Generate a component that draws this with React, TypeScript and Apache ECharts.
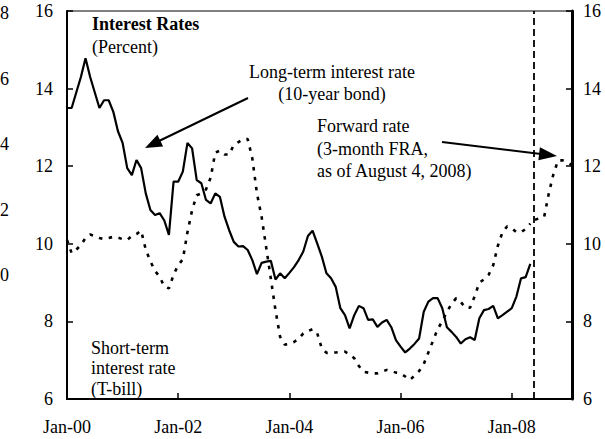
import React, { useEffect, useRef } from "react";
import * as echarts from "echarts";

// Months since Jan-2000 (index = month)
const longTermRate = [
  13.5, 13.5, 13.9, 14.3, 14.78, 14.3, 13.9, 13.5, 13.7, 13.7,
  13.4, 12.9, 12.6, 11.95, 11.77, 12.16, 11.95, 11.3, 10.87, 10.74,
  10.79, 10.6, 10.23, 11.6, 11.6, 11.86, 12.6, 12.46, 11.64, 11.56,
  11.13, 11.04, 11.3, 11.21, 10.7, 10.35, 10.05, 9.93, 9.94, 9.84,
  9.58, 9.22, 9.51, 9.54, 9.56, 9.08, 9.24, 9.11, 9.25, 9.4,
  9.58, 9.8, 10.2, 10.34, 10.01, 9.67, 9.24, 9.11, 8.89, 8.34,
  8.16, 7.82, 8.16, 8.4, 8.34, 8.04, 8.05, 7.86, 7.97, 8.04,
  7.85, 7.52, 7.35, 7.2, 7.3, 7.42, 7.56, 8.25, 8.51, 8.6,
  8.6, 8.34, 7.85, 7.73, 7.6, 7.43, 7.54, 7.59, 7.52, 8.08,
  8.29, 8.32, 8.4, 8.08, 8.16, 8.25, 8.34, 8.64, 9.11, 9.14,
  9.48,
];

const shortTermRate = [
  10.1, 9.76, 9.85, 9.97, 10.15, 10.24, 10.2, 10.15, 10.12, 10.15,
  10.18, 10.16, 10.12, 10.1, 10.2, 10.25, 10.34, 9.85, 9.55, 9.3,
  9.15, 8.9, 8.85, 9.2, 9.45, 9.6, 10.3, 10.87, 11.25, 11.3,
  11.4, 11.7, 12.35, 12.4, 12.3, 12.3, 12.55, 12.62, 12.7, 12.7,
  12.2, 11.3, 10.7, 9.9, 9.1, 8.29, 7.6, 7.4, 7.42, 7.47,
  7.55, 7.69, 7.75, 7.8, 7.7, 7.3, 7.19, 7.19, 7.2, 7.21,
  7.22, 7.15, 7.05, 6.85, 6.7, 6.68, 6.66, 6.66, 6.7, 6.75,
  6.72, 6.68, 6.66, 6.58, 6.49, 6.6, 6.72, 6.9, 7.2, 7.5,
  7.8, 8.0, 8.25, 8.45, 8.6, 8.5, 8.35, 8.35, 8.65, 9.0,
  9.08, 9.2, 9.45, 9.95, 10.3, 10.45, 10.4, 10.3, 10.3, 10.38,
  10.52,
];

const forwardMonths = [101, 102, 103, 104, 105, 106, 107, 108, 109];
const forwardRate = [10.62, 10.66, 10.7, 11.3, 11.8, 12.15, 12.15, 12.1, 12.03];

const xTickLabels = ["Jan-00", "Jan-02", "Jan-04", "Jan-06", "Jan-08"];
const asOfMonth = 100.7;
const neighbourLabels = ["18", "16", "14", "12", "10"];

const FONT = "'Liberation Serif', 'Times New Roman', serif";

export default function App() {
  const ref = useRef<HTMLDivElement>(null);

  useEffect(() => {
    const chart = echarts.init(ref.current!, null, { renderer: "svg" });

    const axisLabelStyle = { color: "#000", fontFamily: FONT, fontSize: 18 };
    const yBase = {
      type: "value" as const,
      min: 6,
      max: 16,
      interval: 2,
      splitLine: { show: false },
      axisTick: { show: true, inside: true, length: 6, lineStyle: { color: "#000", width: 1.5 } },
    };

    const txt = (text: string, x: number, y: number, opts: any = {}) => ({
      type: "text",
      silent: true,
      style: {
        text,
        x,
        y,
        fill: "#000",
        font: `${opts.bold ? "bold " : ""}18px ${FONT}`,
        textAlign: opts.align || "left",
        textVerticalAlign: "middle",
      },
    });

    const arrowHead = (tipX: number, tipY: number, fromX: number, fromY: number, len: number, half: number) => {
      const dx = tipX - fromX;
      const dy = tipY - fromY;
      const L = Math.sqrt(dx * dx + dy * dy);
      const ux = dx / L;
      const uy = dy / L;
      const bx = tipX - ux * len;
      const by = tipY - uy * len;
      return {
        type: "polygon",
        silent: true,
        shape: {
          points: [
            [tipX, tipY],
            [bx - uy * half, by + ux * half],
            [bx + uy * half, by - ux * half],
          ],
        },
        style: { fill: "#000" },
      };
    };

    const graphics: any[] = [
      txt("Interest Rates", 92, 24, { bold: true }),
      txt("(Percent)", 92, 47),
      txt("Long-term interest rate", 332, 72, { align: "center" }),
      txt("(10-year bond)", 332, 94, { align: "center" }),
      txt("Forward rate", 317, 126),
      txt("(3-month FRA,", 317, 149),
      txt("as of August 4, 2008)", 317, 171),
      txt("Short-term", 91, 348),
      txt("interest rate", 91, 368),
      txt("(T-bill)", 91, 389),
      {
        type: "line",
        silent: true,
        shape: { x1: 248, y1: 98, x2: 159, y2: 141 },
        style: { stroke: "#000", lineWidth: 2 },
      },
      arrowHead(145, 148, 248, 98, 17, 6.5),
      {
        type: "line",
        silent: true,
        shape: { x1: 442, y1: 142, x2: 541, y2: 154 },
        style: { stroke: "#000", lineWidth: 2 },
      },
      arrowHead(557, 156, 442, 142, 18, 6.5),
    ];
    neighbourLabels.forEach((t, i) => {
      graphics.push(txt(t, 9, 13 + i * 65.5, { align: "right" }));
    });

    chart.setOption({
      animation: false,
      backgroundColor: "#fff",
      grid: {
        left: 67,
        right: 33,
        top: 11,
        bottom: 40,
        show: true,
        borderColor: "#000",
        borderWidth: 1,
        backgroundColor: "transparent",
      },
      xAxis: {
        type: "value",
        min: 0,
        max: 109,
        interval: 24,
        splitLine: { show: false },
        axisLine: { show: true, onZero: false, lineStyle: { color: "#000", width: 2 } },
        axisTick: { show: true, inside: true, length: 6, lineStyle: { color: "#000", width: 1.5 } },
        axisLabel: {
          ...axisLabelStyle,
          margin: 19,
          formatter: (v: number) => (v % 24 === 0 ? xTickLabels[v / 24] || "" : ""),
        },
      },
      yAxis: [
        {
          ...yBase,
          position: "left",
          axisLine: { show: true, lineStyle: { color: "#000", width: 2 } },
          axisLabel: { ...axisLabelStyle, margin: 14 },
        },
        {
          ...yBase,
          position: "right",
          axisLine: { show: true, lineStyle: { color: "#000", width: 3 } },
          axisLabel: { ...axisLabelStyle, margin: 11 },
        },
      ],
      series: [
        {
          name: "Long-term interest rate (10-year bond)",
          type: "line",
          symbol: "none",
          data: longTermRate.map((v, i) => [i, v]),
          lineStyle: { color: "#000", width: 2.2 },
          markLine: {
            silent: true,
            symbol: "none",
            label: { show: false },
            lineStyle: { color: "#000", width: 1.8, type: [7, 4] },
            data: [{ xAxis: asOfMonth }],
          },
        },
        {
          name: "Short-term interest rate (T-bill)",
          type: "line",
          symbol: "none",
          data: shortTermRate.map((v, i) => [i, v]),
          lineStyle: { color: "#000", width: 2.6, type: [3.5, 6.5], cap: "butt" },
        },
        {
          name: "Forward rate",
          type: "line",
          symbol: "none",
          data: forwardMonths.map((m, i) => [m, forwardRate[i]]),
          lineStyle: { color: "#000", width: 2.6, type: [3.5, 6.5], cap: "butt" },
        },
      ],
      graphic: graphics,
    });

    return () => chart.dispose();
  }, []);

  return (
    <div
      ref={ref}
      style={{ position: "absolute", left: 0, top: 0, width: 605, height: 439 }}
    />
  );
}
